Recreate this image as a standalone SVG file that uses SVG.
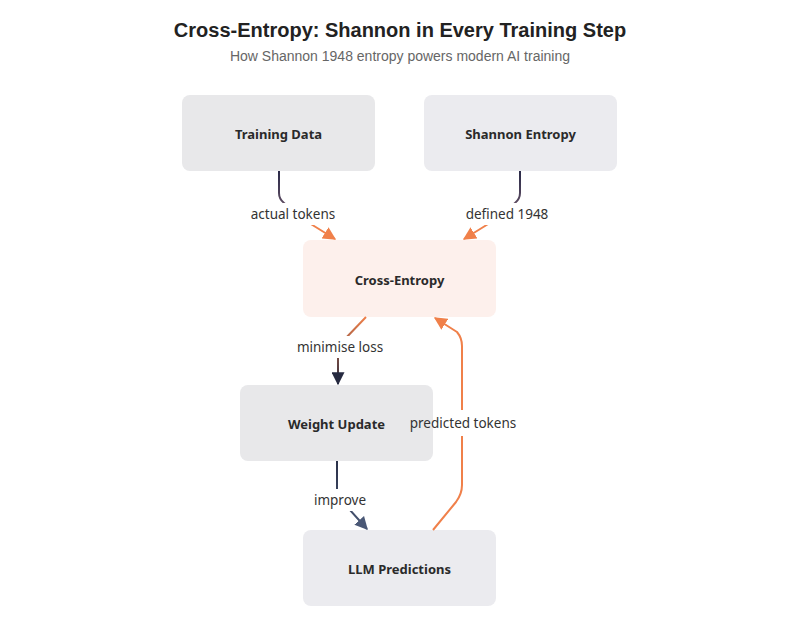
<svg xmlns="http://www.w3.org/2000/svg" width="800" height="627" viewBox="0 0 800 627">
<style>
.title{font-family:"Liberation Sans",Arial,sans-serif;font-weight:bold;font-size:20px;fill:#222;text-anchor:middle}
.sub{font-family:"Liberation Sans",Arial,sans-serif;font-size:14px;fill:#666;text-anchor:middle}
.nl{font-family:"Noto Sans","Open Sans",sans-serif;font-weight:bold;font-size:13px;fill:#2a2a2a;text-anchor:middle;dominant-baseline:central}
.el{font-family:"Noto Sans","Open Sans",sans-serif;font-size:13.5px;fill:#333;text-anchor:middle;dominant-baseline:central}
.lbg{fill:#fff}
.edge{fill:none;stroke-width:2;stroke-linejoin:round}
</style>
<defs>
<marker id="aO" viewBox="0 0 10 10" refX="9" refY="5" markerWidth="6.5" markerHeight="6.5" orient="auto" markerUnits="strokeWidth"><path d="M0,0 L10,5 L0,10 z" fill="#f0804a"/></marker>
<marker id="aD" viewBox="0 0 10 10" refX="9" refY="5" markerWidth="6.5" markerHeight="6.5" orient="auto" markerUnits="strokeWidth"><path d="M0,0 L10,5 L0,10 z" fill="#262a40"/></marker>
<marker id="aS" viewBox="0 0 10 10" refX="9" refY="5" markerWidth="6.5" markerHeight="6.5" orient="auto" markerUnits="strokeWidth"><path d="M0,0 L10,5 L0,10 z" fill="#4a5876"/></marker>
<linearGradient id="g1" gradientUnits="userSpaceOnUse" x1="0" y1="171" x2="0" y2="240"><stop offset="0" stop-color="#2a2a48"/><stop offset="0.45" stop-color="#5a4a60"/><stop offset="0.7" stop-color="#f0804a"/><stop offset="1" stop-color="#f0804a"/></linearGradient>
<linearGradient id="g3" gradientUnits="userSpaceOnUse" x1="0" y1="317" x2="0" y2="385"><stop offset="0" stop-color="#f0804a"/><stop offset="1" stop-color="#262a40"/></linearGradient>
<linearGradient id="g4" gradientUnits="userSpaceOnUse" x1="0" y1="461" x2="0" y2="530"><stop offset="0" stop-color="#2a3048"/><stop offset="1" stop-color="#4a5876"/></linearGradient>
</defs>
<text class="title" x="400" y="37">Cross-Entropy: Shannon in Every Training Step</text>
<text class="sub" x="400" y="61">How Shannon 1948 entropy powers modern AI training</text>
<g id="training-data"><rect x="182" y="95" width="193" height="76" rx="8" fill="#e8e8ea"/><text class="nl" x="278.5" y="134">Training Data</text></g>
<g id="shannon-entropy"><rect x="424" y="95" width="193" height="76" rx="8" fill="#ebebef"/><text class="nl" x="520.5" y="134">Shannon Entropy</text></g>
<g id="cross-entropy"><rect x="303" y="240" width="193" height="77" rx="8" fill="#fdf0ec"/><text class="nl" x="399.5" y="280">Cross-Entropy</text></g>
<g id="weight-update"><rect x="240" y="385" width="193" height="76" rx="8" fill="#e8e8ea"/><text class="nl" x="336.5" y="424">Weight Update</text></g>
<g id="llm-predictions"><rect x="303" y="530" width="193" height="76" rx="8" fill="#ebebef"/><text class="nl" x="399.5" y="569">LLM Predictions</text></g>
<g id="connectors">
<path class="edge" stroke="url(#g1)" d="M279,171 L279,193 Q279,199 284,203 L306,221 L335,239" marker-end="url(#aO)"/>
<path class="edge" stroke="url(#g1)" d="M520,171 L520,193 Q520,199 515,203 L493,221 L464,239" marker-end="url(#aO)"/>
<path class="edge" stroke="url(#g3)" d="M366,317 L343,341 Q338,346 338,352 L338,384" marker-end="url(#aD)"/>
<path class="edge" stroke="url(#g4)" d="M337,461 L337,490 Q337,496 341,500 L367,529" marker-end="url(#aS)"/>
<path class="edge" stroke="#f0804a" d="M433,530 L456,502 Q462,494 462,485 L462,346 Q462,338 457,332 L435,318" marker-end="url(#aO)"/>
<rect class="lbg" x="246" y="203" width="94" height="22"/>
<text class="el" x="293" y="214">actual tokens</text>
<rect class="lbg" x="461" y="203" width="92" height="22"/>
<text class="el" x="507" y="214">defined 1948</text>
<rect class="lbg" x="293" y="336" width="94" height="22"/>
<text class="el" x="340" y="347">minimise loss</text>
<rect class="lbg" x="452" y="410" width="20" height="26"/>
<text class="el" x="463" y="423">predicted tokens</text>
<rect class="lbg" x="310" y="489" width="60" height="22"/>
<text class="el" x="340" y="500">improve</text>
</g>
</svg>
